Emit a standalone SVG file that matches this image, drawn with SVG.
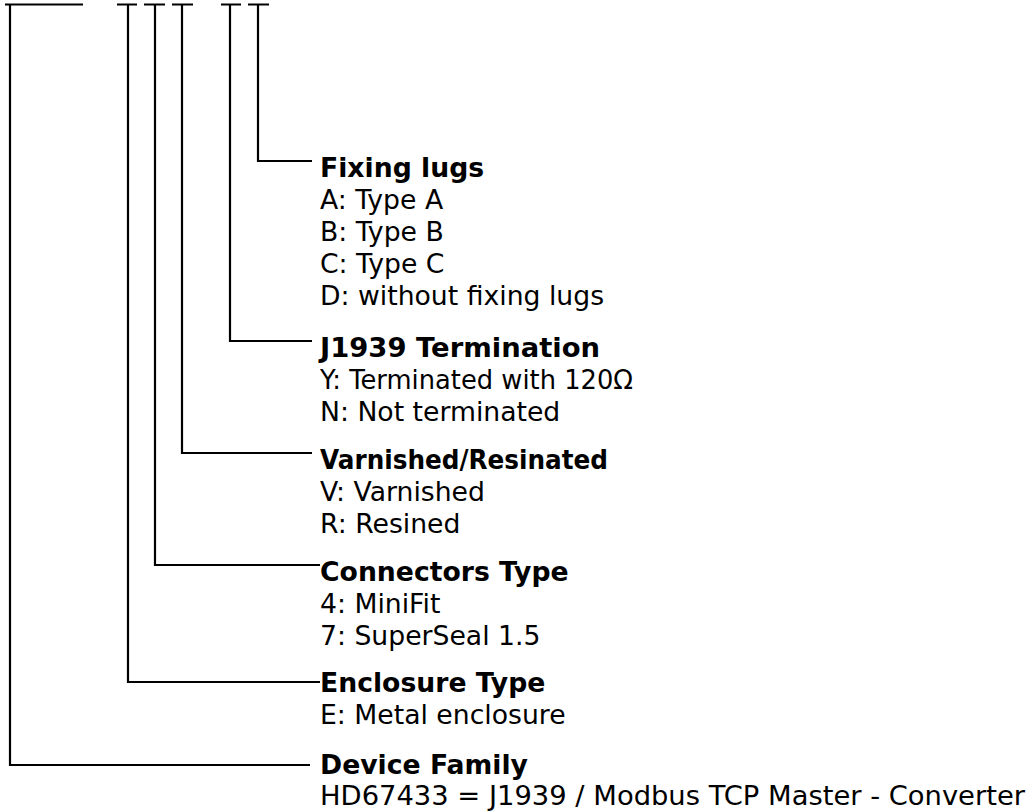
<svg xmlns="http://www.w3.org/2000/svg" width="1028" height="811" viewBox="0 0 1028 811">
<style>
.ln{fill:none;stroke:#000;stroke-width:2.2;stroke-linecap:butt;stroke-linejoin:miter}
.h{font-family:Verdana,"DejaVu Sans",sans-serif;font-weight:bold;font-size:26.67px;fill:#000}
.t{font-family:Verdana,"DejaVu Sans",sans-serif;font-size:26.67px;fill:#000}
</style>
<rect width="1028" height="811" fill="#fff"/>
<g id="connectors">
<path class="ln" d="M5,4.5H83 M10,4.5V765H310"/>
<path class="ln" d="M117,4.5H137 M128,4.5V682H320"/>
<path class="ln" d="M144,4.5H165 M155,4.5V565H320"/>
<path class="ln" d="M172,4.5H193 M182,4.5V453H312"/>
<path class="ln" d="M221,4.5H241 M230,4.5V341H312"/>
<path class="ln" d="M248,4.5H269 M258,4.5V161H312"/>
</g>
<g id="fixing-lugs">
<text class="h" x="320" y="177">Fixing lugs</text>
<text class="t" x="320" y="209">A: Type A</text>
<text class="t" x="320" y="241">B: Type B</text>
<text class="t" x="320" y="273">C: Type C</text>
<text class="t" x="320" y="305">D: without fixing lugs</text>
</g>
<g id="j1939-termination">
<text class="h" x="320" y="357" textLength="280" lengthAdjust="spacingAndGlyphs">J1939 Termination</text>
<text class="t" x="320" y="389" textLength="313" lengthAdjust="spacingAndGlyphs">Y: Terminated with 120Ω</text>
<text class="t" x="320" y="421">N: Not terminated</text>
</g>
<g id="varnished-resinated">
<text class="h" x="320" y="469" textLength="288" lengthAdjust="spacingAndGlyphs">Varnished/Resinated</text>
<text class="t" x="320" y="501">V: Varnished</text>
<text class="t" x="320" y="533">R: Resined</text>
</g>
<g id="connectors-type">
<text class="h" x="320" y="581">Connectors Type</text>
<text class="t" x="320" y="613">4: MiniFit</text>
<text class="t" x="320" y="645">7: SuperSeal 1.5</text>
</g>
<g id="enclosure-type">
<text class="h" x="320" y="692">Enclosure Type</text>
<text class="t" x="320" y="724">E: Metal enclosure</text>
</g>
<g id="device-family">
<text class="h" x="320" y="773.5">Device Family</text>
<text class="t" x="320" y="805" textLength="705" lengthAdjust="spacingAndGlyphs">HD67433 = J1939 / Modbus TCP Master - Converter</text>
</g>
</svg>
